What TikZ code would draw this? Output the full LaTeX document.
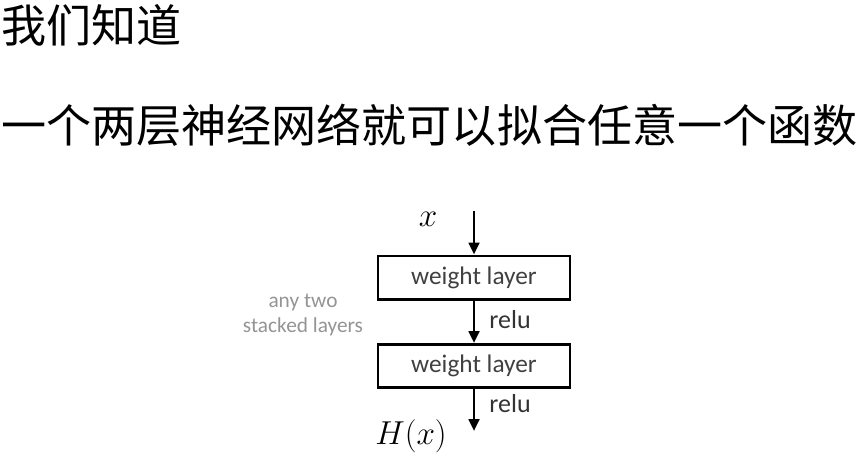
\documentclass[tikz,border=0pt]{standalone}
\usepackage{fontspec}
\setsansfont{Carlito}
\newfontfamily\cjk{Noto Sans CJK SC}
\usetikzlibrary{arrows.meta}
\begin{document}
\begin{tikzpicture}[x=0.75pt,y=-0.75pt,
  title/.style={anchor=west,inner sep=0pt,font=\cjk\fontsize{33.8pt}{36pt}\selectfont},
  layerbox/.style={draw,line width=2pt,minimum width=144pt,minimum height=32.5pt,inner sep=0pt,font=\sffamily\fontsize{19pt}{22pt}\selectfont,text=black!75},
  flow/.style={line width=2pt,-{Triangle[length=9pt,width=8pt]}},
  lab/.style={font=\sffamily\fontsize{19.5pt}{22pt}\selectfont,text=black!80,inner sep=0pt},
  mathlab/.style={font=\fontsize{24pt}{26pt}\selectfont,inner sep=0pt},
  note/.style={align=center,font=\sffamily\fontsize{16pt}{18.5pt}\selectfont,text=black!42,inner sep=0pt}]
\useasboundingbox (0,0) rectangle (859,456);
\node[title] (t1) at (1,25) {我们知道};
\node[title] (t2) at (1,125) {一个两层神经网络就可以拟合任意一个函数};
\node[layerbox] (w1) at (474,277.5) {weight layer};
\node[layerbox] (w2) at (474,366) {weight layer};
\coordinate (in) at (474,211);
\coordinate (out) at (474,431);
\draw[flow] (in) -- (w1.north);
\draw[flow] (w1.south) -- (w2.north);
\draw[flow] (w2.south) -- (out);
\node[mathlab] (x) at (428,219) {$x$};
\node[mathlab] (hx) at (411,436) {$H(x)$};
\node[lab] (r1) at (510,320) {relu};
\node[lab] (r2) at (510,404) {relu};
\node[note] (n) at (303,315) {any two\\stacked layers};
\end{tikzpicture}
\end{document}
